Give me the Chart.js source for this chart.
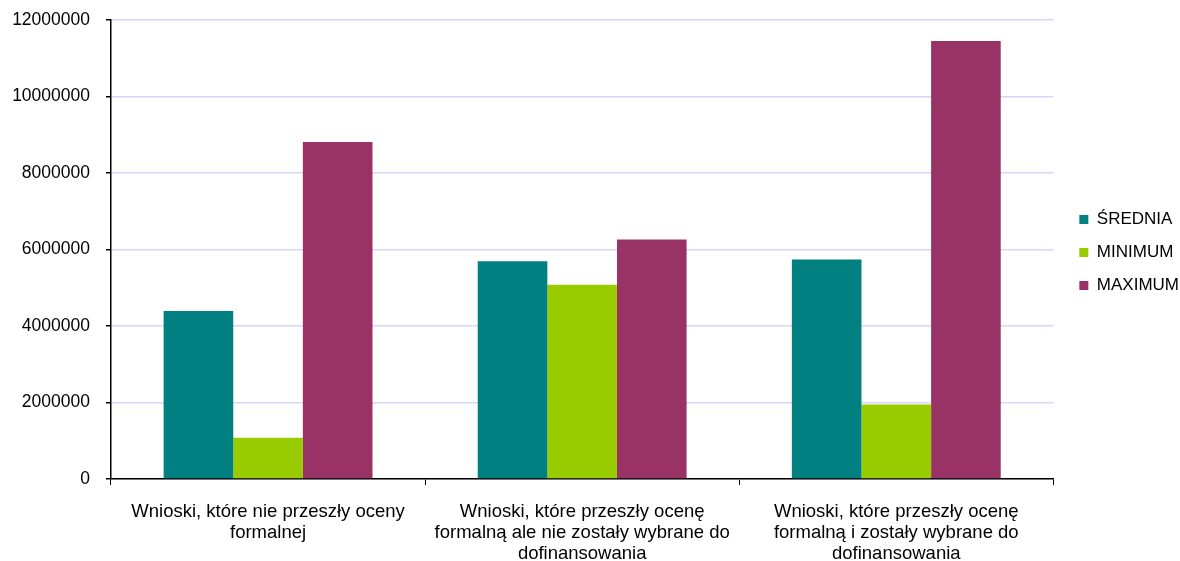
<!DOCTYPE html>
<html>
<head>
<meta charset="utf-8">
<script src="https://cdn.jsdelivr.net/npm/chart.js@4/dist/chart.umd.min.js"></script>
<style>
  html, body { margin: 0; padding: 0; background: #fff; }
  #wrap { width: 1180px; height: 561px; }
</style>
</head>
<body>
<div id="wrap"><canvas id="chart" width="1180" height="561"></canvas></div>
<script>
const CATEGORIES = [
  ['Wnioski, które nie przeszły oceny', 'formalnej'],
  ['Wnioski, które przeszły ocenę', 'formalną ale nie zostały wybrane do', 'dofinansowania'],
  ['Wnioski, które przeszły ocenę', 'formalną i zostały wybrane do', 'dofinansowania'],
];
const SREDNIA = [4390000, 5690000, 5740000];
const MINIMUM = [1080000, 5080000, 1950000];
const MAXIMUM = [8810000, 6260000, 11450000];
const Y_TICKS = [0, 2000000, 4000000, 6000000, 8000000, 10000000, 12000000];

const FAMILY    = '"Liberation Sans", Arial, sans-serif';
const FONT      = { family: FAMILY, size: 17.5 };
const textColor = '#000';
const gridColor = '#d6d6fa';

// push the legend a bit further from the plot, like the original
const legendShift = {
  id: 'legendShift',
  afterLayout(chart) { chart.legend.left += 10; chart.legend.top += 3; chart.legend.bottom += 3; },
};

new Chart(document.getElementById('chart'), {
  type: 'bar',
  data: {
    labels: CATEGORIES,
    datasets: [
      { label: 'ŚREDNIA', data: SREDNIA, backgroundColor: '#008080' },
      { label: 'MINIMUM', data: MINIMUM, backgroundColor: '#99cc00' },
      { label: 'MAXIMUM', data: MAXIMUM, backgroundColor: '#993366' },
    ],
  },
  plugins: [legendShift],
  options: {
    responsive: false,
    animation: false,
    categoryPercentage: 0.665,
    barPercentage: 1.0,
    layout: { padding: { top: 20, right: 1, bottom: 0, left: 0 } },
    plugins: {
      legend: {
        position: 'right',
        fullSize: false,
        labels: { color: textColor, font: { family: FAMILY, size: 17 }, boxWidth: 9, boxHeight: 9, padding: 16 },
      },
      tooltip: { enabled: false },
    },
    scales: {
      x: {
        afterFit: s => { s.height = 82; },
        grid: { drawOnChartArea: false, drawTicks: true, tickLength: 6, color: '#000' },
        border: { display: true, color: '#000', width: 1.5 },
        ticks: { color: textColor, font: { family: FAMILY, size: 18.5, lineHeight: 1.135 }, maxRotation: 0, padding: 16 },
      },
      y: {
        min: 0,
        max: 12000000,
        afterFit: s => { s.width = 111; s.paddingTop = 0; s.paddingBottom = 0; },
        afterBuildTicks: s => { s.ticks = Y_TICKS.map(v => ({ value: v })); },
        grid: { color: gridColor, lineWidth: 1.5, tickColor: '#000', tickLength: 5 },
        border: { display: true, color: '#000', width: 1.5 },
        ticks: { color: textColor, font: FONT, padding: 16, callback: v => String(v) },
      },
    },
  },
});
</script>
</body>
</html>
